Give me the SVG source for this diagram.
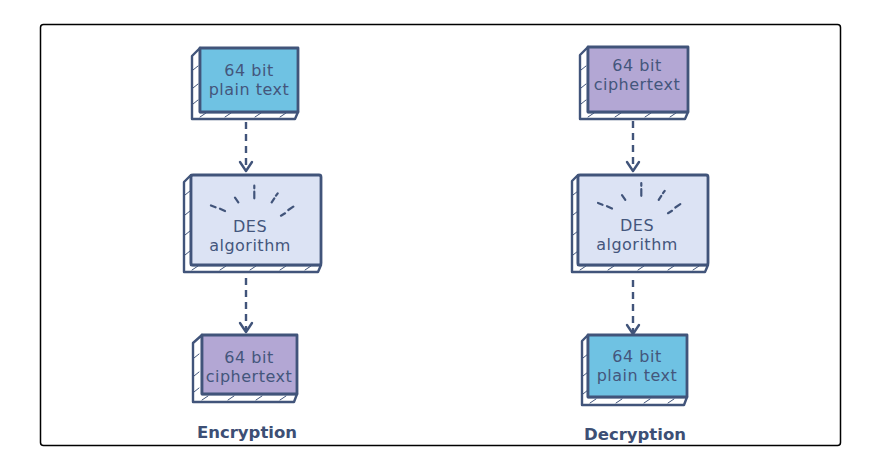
<svg xmlns="http://www.w3.org/2000/svg" width="885" height="465" viewBox="0 0 885 465">
<style>
.frame{fill:#fff;stroke:#000;stroke-width:1.5}
.face{stroke:#41547a;stroke-width:2.8;stroke-linejoin:round}
.side{fill:#fff;stroke:#41547a;stroke-width:2.4;stroke-linejoin:round}
.hatch{fill:none;stroke:#41547a;stroke-width:1;stroke-linecap:round}
.blue{fill:#6fc2e3}
.purple{fill:#b3a7d4}
.lav{fill:#dce3f4}
.t{font-family:"DejaVu Sans",Verdana,sans-serif;font-size:16px;letter-spacing:0.5px;fill:#44567c;text-anchor:middle}
.lbl{font-family:"DejaVu Sans",Verdana,sans-serif;font-size:16.5px;font-weight:bold;fill:#3d4f75;text-anchor:middle}
.ray{fill:none;stroke:#41547a;stroke-width:2.2;stroke-linecap:round}
.conn{fill:none;stroke:#41547a;stroke-width:2.4;stroke-dasharray:7 5}
.head{fill:none;stroke:#41547a;stroke-width:2.4;stroke-linecap:round;stroke-linejoin:round}
</style>
<rect class="frame" x="40.5" y="24.5" width="800" height="421" rx="3"/>

<g id="connectors">
<path class="conn" d="M246,122 V170"/>
<path class="head" d="M240,162 L246,171 L252,162"/>
<path class="conn" d="M246,278 V331"/>
<path class="head" d="M240,323 L246,332 L252,323"/>
<path class="conn" d="M633,121 V170"/>
<path class="head" d="M627,162 L633,171 L639,162"/>
<path class="conn" d="M633,280 V333"/>
<path class="head" d="M627,325 L633,334 L639,325"/>
</g>

<g id="enc-plain">
<path class="side" d="M200,48 L192,56 L192,119 L295,119 L298,112 L200,112 Z"/>
<path class="hatch" d="M193,70 l5,-4 M193,88 l5,-4 M193,104 l5,-4 M200,117 l6,-4 M225,117 l6,-4 M255,117 l6,-4 M280,117 l6,-4"/>
<rect class="face blue" x="200" y="48" width="98" height="64"/>
<text class="t" x="249" y="76">64 bit</text>
<text class="t" x="249" y="95">plain text</text>
</g>

<g id="enc-des">
<path class="side" d="M191,175 L184,182 L184,272 L318,272 L321,265 L191,265 Z"/>
<path class="hatch" d="M185,195 l5,-4 M185,215 l5,-4 M185,235 l5,-4 M185,255 l5,-4 M192,270 l6,-4 M220,270 l6,-4 M250,270 l6,-4 M280,270 l6,-4 M305,270 l6,-4"/>
<rect class="face lav" x="191" y="175" width="130" height="90" rx="2"/>
<path class="ray" d="M211,205.5 L215.5,207.3 M220,208.7 L225,211 M235,197.7 L238.3,202.3 M254.3,185.7 V188.3 M254.3,191.7 V198.3 M271.7,202.3 L274.3,198.3 M276,195.7 L277.7,193.3 M281,215.7 L285,213.3 M288.3,210 L293.3,206.7"/>
<text class="t" x="250" y="232">DES</text>
<text class="t" x="250" y="251">algorithm</text>
</g>

<g id="enc-cipher">
<path class="side" d="M202,335 L193,343 L193,402 L294,402 L297,394 L202,394 Z"/>
<path class="hatch" d="M194,358 l5,-4 M194,376 l5,-4 M194,392 l5,-4 M202,400 l6,-4 M228,400 l6,-4 M256,400 l6,-4 M280,400 l6,-4"/>
<rect class="face purple" x="202" y="335" width="95" height="59"/>
<text class="t" x="249" y="363">64 bit</text>
<text class="t" x="249" y="382">ciphertext</text>
</g>
<text class="lbl" x="247" y="438">Encryption</text>

<g id="dec-cipher">
<path class="side" d="M588,47 L580,55 L580,119 L685,119 L688,112 L588,112 Z"/>
<path class="hatch" d="M581,70 l5,-4 M581,88 l5,-4 M581,104 l5,-4 M588,117 l6,-4 M615,117 l6,-4 M645,117 l6,-4 M670,117 l6,-4"/>
<rect class="face purple" x="588" y="47" width="100" height="65"/>
<text class="t" x="637" y="71">64 bit</text>
<text class="t" x="637" y="90">ciphertext</text>
</g>

<g id="dec-des">
<path class="side" d="M578,175 L572,181 L572,272 L705,272 L708,265 L578,265 Z"/>
<path class="hatch" d="M573,195 l5,-4 M573,215 l5,-4 M573,235 l5,-4 M573,255 l5,-4 M580,270 l6,-4 M608,270 l6,-4 M638,270 l6,-4 M668,270 l6,-4 M693,270 l6,-4"/>
<rect class="face lav" x="578" y="175" width="130" height="90" rx="2"/>
<path class="ray" d="M598,203 L602.5,204.8 M607,206.2 L612,208.5 M622,195.2 L625.3,199.8 M641.3,183.2 V185.8 M641.3,189.2 V195.8 M658.7,199.8 L661.3,195.8 M663,193.2 L664.7,190.8 M668,213.2 L672,210.8 M675.3,207.5 L680.3,204.2"/>
<text class="t" x="637" y="231">DES</text>
<text class="t" x="637" y="250">algorithm</text>
</g>

<g id="dec-plain">
<path class="side" d="M588,335 L582,341 L582,405 L684,405 L687,397 L588,397 Z"/>
<path class="hatch" d="M583,358 l5,-4 M583,376 l5,-4 M583,394 l5,-4 M590,403 l6,-4 M616,403 l6,-4 M644,403 l6,-4 M668,403 l6,-4"/>
<rect class="face blue" x="588" y="335" width="99" height="62"/>
<text class="t" x="637" y="362">64 bit</text>
<text class="t" x="637" y="381">plain text</text>
</g>
<text class="lbl" x="635" y="440">Decryption</text>
</svg>
